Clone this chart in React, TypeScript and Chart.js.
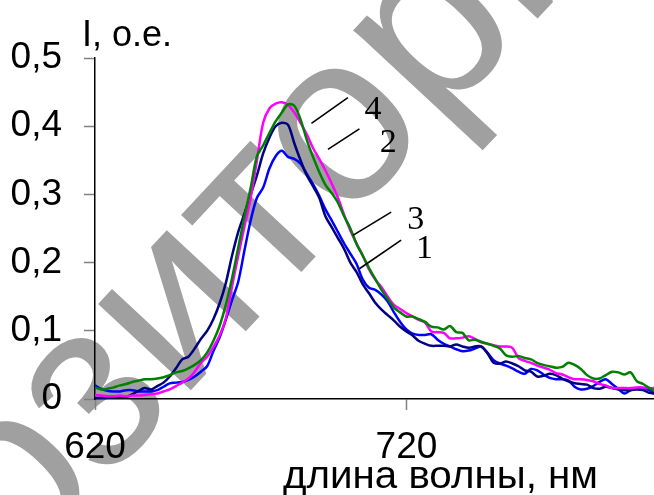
import React, { useEffect, useRef } from "react";
import { Chart, registerables } from "chart.js";

Chart.register(...registerables);

// ---- data ----
const wavelengths = [
  620, 622, 624, 626, 628, 630, 632, 634, 636, 638,
  640, 642, 644, 646, 648, 650, 652, 654, 656, 658,
  660, 662, 664, 666, 668, 670, 672, 674, 676, 678,
  680, 682, 684, 686, 688, 690, 692, 694, 696, 698,
  700, 702, 704, 706, 708, 710, 712, 714, 716, 718,
  720, 722, 724, 726, 728, 730, 732, 734, 736, 738,
  740, 742, 744, 746, 748, 750, 752, 754, 756, 758,
  760, 762, 764, 766, 768, 770, 772, 774, 776, 778,
  780, 782, 784, 786, 788, 790, 792, 794, 796, 798,
  800,
];

const greenSeries = [
  0.017, 0.014, 0.015, 0.017, 0.020, 0.022, 0.025, 0.027, 0.029, 0.029,
  0.030, 0.032, 0.035, 0.039, 0.041, 0.045, 0.050, 0.057, 0.068, 0.085,
  0.107, 0.138, 0.177, 0.222, 0.268, 0.310, 0.356, 0.372, 0.390, 0.407,
  0.420, 0.432, 0.430, 0.410, 0.380, 0.355, 0.333, 0.314, 0.302, 0.288,
  0.268, 0.250, 0.227, 0.210, 0.192, 0.176, 0.160, 0.147, 0.134, 0.127,
  0.121, 0.121, 0.117, 0.113, 0.106, 0.105, 0.102, 0.107, 0.098, 0.097,
  0.086, 0.087, 0.084, 0.081, 0.078, 0.074, 0.064, 0.062, 0.063, 0.060,
  0.058, 0.053, 0.050, 0.048, 0.046, 0.047, 0.053, 0.050, 0.044, 0.035,
  0.030, 0.030, 0.035, 0.040, 0.039, 0.036, 0.039, 0.026, 0.022, 0.016,
  0.011,
];

const magentaSeries = [
  0.006, 0.005, 0.004, 0.004, 0.005, 0.004, 0.005, 0.005, 0.006, 0.007,
  0.008, 0.011, 0.014, 0.019, 0.024, 0.030, 0.040, 0.053, 0.062, 0.076,
  0.093, 0.118, 0.165, 0.210, 0.253, 0.295, 0.350, 0.405, 0.426, 0.433,
  0.435, 0.431, 0.420, 0.405, 0.388, 0.368, 0.352, 0.335, 0.316, 0.295,
  0.270, 0.247, 0.228, 0.210, 0.190, 0.175, 0.164, 0.150, 0.138, 0.132,
  0.126, 0.121, 0.116, 0.112, 0.099, 0.098, 0.097, 0.089, 0.089, 0.090,
  0.092, 0.088, 0.083, 0.081, 0.079, 0.077, 0.077, 0.075, 0.060, 0.056,
  0.053, 0.049, 0.046, 0.043, 0.038, 0.036, 0.032, 0.029, 0.029, 0.028,
  0.026, 0.022, 0.020, 0.016, 0.016, 0.016, 0.016, 0.017, 0.017, 0.016,
  0.016,
];

const blueSeries = [
  0.020, 0.015, 0.012, 0.011, 0.011, 0.013, 0.013, 0.011, 0.011, 0.011,
  0.013, 0.018, 0.023, 0.024, 0.025, 0.028, 0.033, 0.040, 0.048, 0.070,
  0.090, 0.116, 0.145, 0.172, 0.218, 0.262, 0.295, 0.310, 0.338, 0.356,
  0.364, 0.355, 0.352, 0.345, 0.330, 0.315, 0.298, 0.278, 0.262, 0.245,
  0.228, 0.213, 0.198, 0.175, 0.163, 0.160, 0.153, 0.143, 0.127, 0.113,
  0.102, 0.096, 0.094, 0.094, 0.095, 0.087, 0.081, 0.077, 0.073, 0.070,
  0.071, 0.074, 0.077, 0.068, 0.057, 0.052, 0.049, 0.045, 0.040, 0.037,
  0.044, 0.042, 0.036, 0.031, 0.029, 0.029, 0.027, 0.018, 0.014, 0.015,
  0.019, 0.025, 0.029, 0.022, 0.015, 0.008, 0.013, 0.015, 0.015, 0.013,
  0.007,
];

const navySeries = [
  0.001, 0.002, 0.002, 0.003, 0.003, 0.003, 0.007, 0.012, 0.016, 0.014,
  0.019, 0.024, 0.033, 0.045, 0.058, 0.062, 0.074, 0.088, 0.100, 0.117,
  0.140, 0.170, 0.210, 0.245, 0.272, 0.300, 0.328, 0.360, 0.383, 0.400,
  0.405, 0.402, 0.375, 0.350, 0.328, 0.312, 0.295, 0.268, 0.252, 0.236,
  0.220, 0.200, 0.186, 0.168, 0.155, 0.141, 0.131, 0.123, 0.115, 0.106,
  0.099, 0.093, 0.085, 0.081, 0.078, 0.078, 0.078, 0.077, 0.080, 0.077,
  0.075, 0.077, 0.077, 0.067, 0.053, 0.052, 0.055, 0.052, 0.048, 0.042,
  0.040, 0.033, 0.034, 0.037, 0.035, 0.030, 0.026, 0.023, 0.022, 0.021,
  0.016, 0.015, 0.018, 0.016, 0.014, 0.013, 0.013, 0.014, 0.013, 0.009,
  0.008,
];

const xTickValues = [620, 720];
const yTickValues = [0, 0.1, 0.2, 0.3, 0.4, 0.5];

// curve number labels (data coordinates)
const curveLabelTexts = ["4", "2", "3", "1"];
const curveLabelPos = [
  [709.3, 0.428],
  [714.2, 0.379],
  [723.0, 0.266],
  [725.8, 0.223],
];
const leaderStart = [
  [689.5, 0.404],
  [694.8, 0.366],
  [702.8, 0.240],
  [704.9, 0.191],
];
const leaderEnd = [
  [701.2, 0.442],
  [704.9, 0.396],
  [715.1, 0.274],
  [718.3, 0.233],
];

const yTitle = "I, о.е.";
const xTitle = "длина волны, нм";
const watermarkText = "Репозиторий";

const SANS = '"Liberation Sans", Arial, Helvetica, sans-serif';
const SERIF = '"Liberation Serif", "Times New Roman", serif';

const watermarkPlugin = {
  id: "watermark",
  beforeDraw(chart: any) {
    const ctx = chart.ctx;
    ctx.save();
    ctx.fillStyle = "#a0a0a0";
    ctx.font = `240px ${SANS}`;
    const prefix = ctx.measureText("Репозит").width;
    ctx.translate(346, 224);
    ctx.rotate((-47 * Math.PI) / 180);
    ctx.textBaseline = "alphabetic";
    ctx.textAlign = "left";
    ctx.fillText(watermarkText, -prefix, 0);
    ctx.restore();
  },
};

const annotationPlugin = {
  id: "curveLabels",
  afterDatasetsDraw(chart: any) {
    const ctx = chart.ctx;
    const xs = chart.scales.x;
    const ys = chart.scales.y;
    ctx.save();
    ctx.strokeStyle = "#000";
    ctx.lineWidth = 1.6;
    for (let i = 0; i < leaderStart.length; i++) {
      ctx.beginPath();
      ctx.moveTo(xs.getPixelForValue(leaderStart[i][0]), ys.getPixelForValue(leaderStart[i][1]));
      ctx.lineTo(xs.getPixelForValue(leaderEnd[i][0]), ys.getPixelForValue(leaderEnd[i][1]));
      ctx.stroke();
    }
    ctx.fillStyle = "#000";
    ctx.font = `34px ${SERIF}`;
    ctx.textAlign = "center";
    ctx.textBaseline = "alphabetic";
    for (let i = 0; i < curveLabelTexts.length; i++) {
      const px = xs.getPixelForValue(curveLabelPos[i][0]);
      const py = ys.getPixelForValue(curveLabelPos[i][1]);
      ctx.fillText(curveLabelTexts[i], px, py + 11.5);
    }
    ctx.restore();
  },
};

const titlesPlugin = {
  id: "titles",
  afterDraw(chart: any) {
    const ctx = chart.ctx;
    ctx.save();
    ctx.fillStyle = "#000";
    ctx.textBaseline = "alphabetic";
    ctx.textAlign = "left";
    ctx.font = `36px ${SANS}`;
    ctx.fillText(yTitle, 82, 46);
    ctx.font = `38px ${SANS}`;
    const w = ctx.measureText(xTitle).width;
    const sx = 315 / w;
    ctx.translate(283, 488);
    ctx.scale(sx, 1);
    ctx.fillText(xTitle, 0, 0);
    ctx.restore();
  },
};

function mk(values: number[]) {
  return wavelengths.map((w, i) => ({ x: w, y: values[i] }));
}

export default function App() {
  const ref = useRef<HTMLCanvasElement | null>(null);

  useEffect(() => {
    if (!ref.current) return;
    const tickFont = { family: SANS, size: 37 };
    const chart = new Chart(ref.current, {
      type: "line",
      data: {
        datasets: [
          { label: "3", data: mk(greenSeries), borderColor: "#008000" },
          { label: "2", data: mk(magentaSeries), borderColor: "#ff00ff" },
          { label: "4", data: mk(navySeries), borderColor: "#000080" },
          { label: "1", data: mk(blueSeries), borderColor: "#0000ff" },
        ].map((d) => ({
          ...d,
          borderWidth: 2.5,
          pointRadius: 0,
          tension: 0.3,
          fill: false,
        })),
      },
      options: {
        responsive: false,
        animation: false,
        devicePixelRatio: 1,
        layout: { padding: { top: 58, left: 0, right: 0, bottom: 0 } },
        plugins: {
          legend: { display: false },
          tooltip: { enabled: false },
          title: { display: false },
        },
        scales: {
          x: {
            type: "linear",
            min: 620,
            max: 799.5,
            afterBuildTicks: (s: any) => {
              s.ticks = xTickValues.map((v) => ({ value: v }));
            },
            afterFit: (s: any) => {
              s.height = 96;
            },
            grid: {
              drawOnChartArea: false,
              drawTicks: true,
              tickLength: 11,
              tickColor: "#808080",
              tickWidth: 1.5,
            },
            border: { color: "#000", width: 1.5 },
            ticks: {
              color: "#000",
              font: tickFont,
              padding: 16,
              maxRotation: 0,
              autoSkip: false,
              callback: (v: any) => String(v),
            },
          },
          y: {
            type: "linear",
            min: 0,
            max: 0.5,
            afterBuildTicks: (s: any) => {
              s.ticks = yTickValues.map((v) => ({ value: v }));
            },
            afterFit: (s: any) => {
              s.width = 95;
            },
            grid: {
              drawOnChartArea: false,
              drawTicks: true,
              tickLength: 11,
              tickColor: "#808080",
              tickWidth: 1.5,
            },
            border: { color: "#000", width: 1.5 },
            ticks: {
              color: "#000",
              font: tickFont,
              padding: 22,
              autoSkip: false,
              callback: (v: any) => (v === 0 ? "0" : Number(v).toFixed(1).replace(".", ",")),
            },
          },
        },
      },
      plugins: [watermarkPlugin, annotationPlugin, titlesPlugin],
    } as any);
    return () => chart.destroy();
  }, []);

  return (
    <div style={{ position: "absolute", left: 0, top: 0, width: 654, height: 495, background: "#fff" }}>
      <canvas ref={ref} width={654} height={495} style={{ display: "block" }} />
    </div>
  );
}
